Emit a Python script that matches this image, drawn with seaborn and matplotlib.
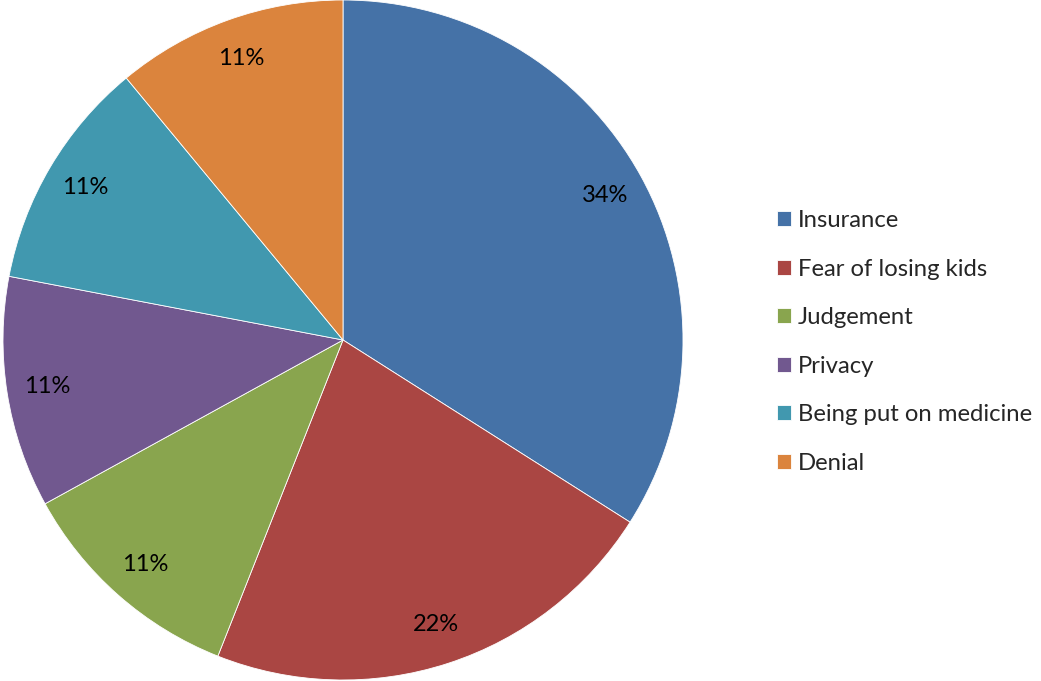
import matplotlib
matplotlib.use("Agg")
import matplotlib.pyplot as plt
import seaborn as sns

# Reasons for not seeking treatment (share of responses, %)
categories = ["Insurance", "Fear of losing kids", "Judgement", "Privacy",
              "Being put on medicine", "Denial"]
shares = [34, 22, 11, 11, 11, 11]
colors = ["#4572A7", "#AA4643", "#89A54E", "#71588F", "#4198AF", "#DB843D"]

sns.set_theme(style="white")
plt.rcParams["font.family"] = ["Lato", "DejaVu Sans"]

fig = plt.figure(figsize=(10.41, 6.81), dpi=100)
ax = fig.add_axes([3 / 1041, 1 / 681, 680 / 1041, 680 / 681])

wedges, _, autotexts = ax.pie(
    shares,
    colors=colors,
    startangle=90,
    counterclock=False,
    autopct=lambda p: f"{p:.0f}%",
    pctdistance=0.88,
    radius=1.0,
    wedgeprops=dict(linewidth=0.6, edgecolor="white"),
    textprops=dict(fontsize=17, color="black"),
)
ax.set_xlim(-1, 1)
ax.set_ylim(-1, 1)
ax.set_aspect("equal")
ax.axis("off")

fig.legend(
    wedges, categories,
    loc="center left",
    bbox_to_anchor=(777 / 1041, 339 / 681),
    frameon=False,
    fontsize=17.2,
    handlelength=0.58,
    handleheight=0.58,
    handletextpad=0.3,
    labelspacing=1.15,
    borderpad=0,
    borderaxespad=0,
)

fig.savefig("out.png", dpi=100, facecolor="white")
